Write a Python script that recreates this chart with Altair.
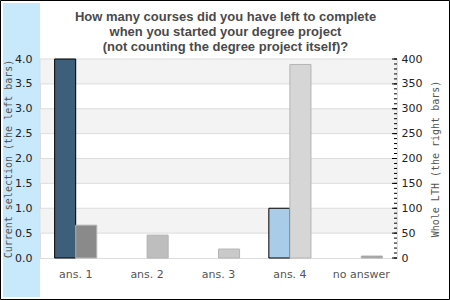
import altair as alt
import pandas as pd

categories = ["ans. 1", "ans. 2", "ans. 3", "ans. 4", "no answer"]
left_values = [4, 0, 0, 1, 0]
right_values = [66, 46, 18, 389, 4]
left_colors = ["#3e5f7a", "#3e5f7a", "#3e5f7a", "#a9cde8", "#3e5f7a"]
right_colors = ["#8a8a8a", "#bebebe", "#c9c9c9", "#d6d6d6", "#9a9a9a"]
left_ticks = [0, 0.5, 1, 1.5, 2, 2.5, 3, 3.5, 4]
right_major = [0, 50, 100, 150, 200, 250, 300, 350, 400]
right_minor = list(range(0, 401, 10))
band_lo = [0.5, 1.5, 2.5, 3.5]
band_hi = [1, 2, 3, 4]

W, H = 357, 199
PL, PT = 40, 59

left_df = pd.DataFrame({"cat": categories, "v": left_values, "c": left_colors, "side": "L"})
right_df = pd.DataFrame({"cat": categories, "v": right_values, "c": right_colors, "side": "R"})
band_df = pd.DataFrame({"lo": band_lo, "hi": band_hi})
major_df = pd.DataFrame({"t": right_major})
minor_df = pd.DataFrame({"t": right_minor})
one = pd.DataFrame({"a": [0]})

xenc = alt.X("cat:N", sort=categories, title=None,
             scale=alt.Scale(domain=categories, paddingInner=0.41, paddingOuter=0.205),
             axis=alt.Axis(ticks=False, domain=False, labelAngle=0, labelColor="#555555",
                           labelFont="DejaVu Sans", labelFontSize=11, labelPadding=10))
xoff = alt.XOffset("side:N", scale=alt.Scale(domain=["L", "R"], paddingInner=0, paddingOuter=0))

deco_band = alt.Chart(one).mark_rect(color="#c8e8fc").encode(
    x=alt.value(-37), x2=alt.value(0), y=alt.value(-56), y2=alt.value(238))
deco_border = alt.Chart(one).mark_rect(fill=None, stroke="black", strokeWidth=1).encode(
    x=alt.value(-39.5), x2=alt.value(409.5), y=alt.value(-58.5), y2=alt.value(240.5))

bands = alt.Chart(band_df).mark_rect(color="#f3f3f3", stroke="#dddddd", strokeWidth=1).encode(
    y=alt.Y("lo:Q", scale=alt.Scale(domain=[0, 4]), axis=None),
    y2="hi:Q")

left_bars = alt.Chart(left_df).transform_filter("datum.v > 0").mark_bar(stroke="black", strokeWidth=1).encode(
    x=xenc, xOffset=xoff,
    y=alt.Y("v:Q", scale=alt.Scale(domain=[0, 4]),
            axis=alt.Axis(values=left_ticks, format=".1f", ticks=False, domain=False, grid=False,
                          labelFont="DejaVu Sans", labelFontSize=11, labelColor="#222222",
                          labelPadding=8, title="Current selection (the left bars)",
                          titleFont="DejaVu Sans Mono", titleFontSize=10, titleFontWeight="normal",
                          titleColor="#555555", titlePadding=1, zindex=1)),
    color=alt.Color("c:N", scale=None))

right_bars = alt.Chart(right_df).mark_bar(stroke="#b4b4b4", strokeWidth=1).encode(
    x=xenc, xOffset=xoff,
    y=alt.Y("v:Q", scale=alt.Scale(domain=[0, 400]),
            axis=alt.Axis(orient="right", values=right_major, format="d", ticks=False, domain=False,
                          grid=False, labelFont="DejaVu Sans", labelFontSize=11,
                          labelColor="#222222", labelPadding=4,
                          title="Whole LTH (the right bars)", titleAngle=270,
                          titleFont="DejaVu Sans Mono", titleFontSize=10, titleFontWeight="normal",
                          titleColor="#555555", titlePadding=19, zindex=1)),
    color=alt.Color("c:N", scale=None))

major_ticks = alt.Chart(major_df).mark_rule(color="black", strokeWidth=1).encode(
    y=alt.Y("t:Q", scale=alt.Scale(domain=[0, 400]), axis=None),
    x=alt.value(W - 5), x2=alt.value(W))
minor_ticks = alt.Chart(minor_df).mark_rule(color="black", strokeWidth=1).encode(
    y=alt.Y("t:Q", scale=alt.Scale(domain=[0, 400]), axis=None),
    x=alt.value(W - 3), x2=alt.value(W))

chart = alt.layer(deco_band, deco_border, bands, left_bars, right_bars, minor_ticks, major_ticks).resolve_scale(
    y="independent"
).properties(
    width=W, height=H,
    title=alt.TitleParams(
        text=["How many courses did you have left to complete",
              "when you started your degree project",
              "(not counting the degree project itself)?"],
        font="Liberation Sans", fontSize=13, fontWeight="bold", color="#4a4a4a",
        anchor="middle", frame="group", dx=7, offset=-53.5, lineHeight=15),
    padding={"left": PL, "top": PT, "right": 450 - PL - W, "bottom": 300 - PT - H},
    autosize=alt.AutoSizeParams(type="none"),
).configure_view(stroke="black", strokeWidth=2).configure(background="white")

chart.save("out.html", embed_options={"renderer": "svg", "actions": False})
